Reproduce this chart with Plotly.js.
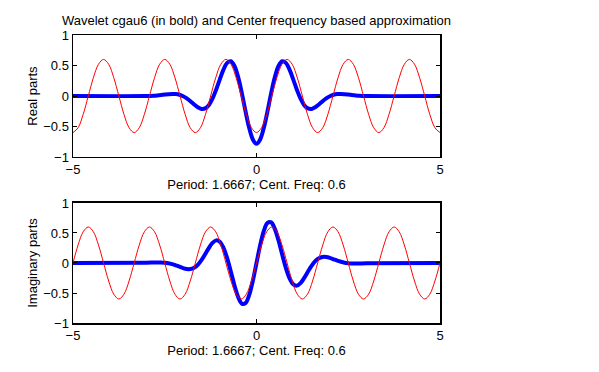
<!DOCTYPE html>
<html>
<head>
<meta charset="utf-8">
<script src="https://cdn.plot.ly/plotly-3.0.1.min.js"></script>
<style>html,body{margin:0;padding:0;background:#fff;}#chart{width:599px;height:372px;}</style>
</head>
<body>
<div id="chart"></div>
<script>
// Wavelet cgau6 samples
const waveX = [-5, -3, -2.8, -2.7, -2.6, -2.5, -2.4, -2.3, -2.2, -2.1, -2, -1.9, -1.8, -1.7, -1.6, -1.5, -1.4, -1.3, -1.2, -1.1, -1, -0.9, -0.8, -0.7, -0.6, -0.5, -0.4, -0.3, -0.2, -0.1,
  0, 0.1, 0.2, 0.3, 0.4, 0.5, 0.6, 0.7, 0.8, 0.9, 1, 1.1, 1.2, 1.3, 1.4, 1.5, 1.6, 1.7, 1.8, 1.9, 2, 2.1, 2.2, 2.3, 2.4, 2.5, 2.6, 2.7, 2.8, 3, 5];
const waveReal = [0, 0.000, 0.005, 0.010, 0.016, 0.023, 0.029, 0.033, 0.031, 0.020, -0.003, -0.039, -0.086, -0.138, -0.185, -0.212, -0.204, -0.150, -0.045, 0.103, 0.273, 0.432, 0.543, 0.570, 0.492, 0.310, 0.048, -0.249, -0.521, -0.712,
  -0.781, -0.712, -0.521, -0.249, 0.048, 0.310, 0.492, 0.570, 0.543, 0.432, 0.273, 0.103, -0.045, -0.150, -0.204, -0.212, -0.185, -0.138, -0.086, -0.039, -0.003, 0.020, 0.031, 0.033, 0.029, 0.023, 0.016, 0.010, 0.005, 0.000, 0];
const waveImag = [0, 0.006, 0.009, 0.010, 0.009, 0.004, -0.005, -0.020, -0.039, -0.062, -0.085, -0.100, -0.101, -0.079, -0.030, 0.047, 0.145, 0.248, 0.334, 0.377, 0.354, 0.254, 0.082, -0.141, -0.374, -0.568, -0.677, -0.668, -0.535, -0.297,
  0, 0.297, 0.535, 0.668, 0.677, 0.568, 0.374, 0.141, -0.082, -0.254, -0.354, -0.377, -0.334, -0.248, -0.145, -0.047, 0.030, 0.079, 0.101, 0.100, 0.085, 0.062, 0.039, 0.020, 0.005, -0.004, -0.009, -0.010, -0.009, -0.006, 0];

// Center-frequency approximation samples
const approxX = [-5, -4.8611, -4.7222, -4.5833, -4.4444, -4.3056, -4.1667, -4.0278, -3.8889, -3.75, -3.6111, -3.4722,
  -3.3333, -3.1944, -3.0556, -2.9167, -2.7778, -2.6389, -2.5, -2.3611, -2.2222, -2.0833, -1.9444, -1.8056,
  -1.6667, -1.5278, -1.3889, -1.25, -1.1111, -0.9722, -0.8333, -0.6944, -0.5556, -0.4167, -0.2778, -0.1389,
  0, 0.1389, 0.2778, 0.4167, 0.5556, 0.6944, 0.8333, 0.9722, 1.1111, 1.25, 1.3889, 1.5278,
  1.6667, 1.8056, 1.9444, 2.0833, 2.2222, 2.3611, 2.5, 2.6389, 2.7778, 2.9167, 3.0556, 3.1944,
  3.3333, 3.4722, 3.6111, 3.75, 3.8889, 4.0278, 4.1667, 4.3056, 4.4444, 4.5833, 4.7222, 4.8611, 5];
const approxReal = [-0.6, -0.52, -0.3, 0, 0.3, 0.52, 0.6, 0.52, 0.3, 0, -0.3, -0.52,
  -0.6, -0.52, -0.3, 0, 0.3, 0.52, 0.6, 0.52, 0.3, 0, -0.3, -0.52,
  -0.6, -0.52, -0.3, 0, 0.3, 0.52, 0.6, 0.52, 0.3, 0, -0.3, -0.52,
  -0.6, -0.52, -0.3, 0, 0.3, 0.52, 0.6, 0.52, 0.3, 0, -0.3, -0.52,
  -0.6, -0.52, -0.3, 0, 0.3, 0.52, 0.6, 0.52, 0.3, 0, -0.3, -0.52,
  -0.6, -0.52, -0.3, 0, 0.3, 0.52, 0.6, 0.52, 0.3, 0, -0.3, -0.52, -0.6];
const approxImag = [0, 0.3, 0.52, 0.6, 0.52, 0.3, 0, -0.3, -0.52, -0.6, -0.52, -0.3,
  0, 0.3, 0.52, 0.6, 0.52, 0.3, 0, -0.3, -0.52, -0.6, -0.52, -0.3,
  0, 0.3, 0.52, 0.6, 0.52, 0.3, 0, -0.3, -0.52, -0.6, -0.52, -0.3,
  0, 0.3, 0.52, 0.6, 0.52, 0.3, 0, -0.3, -0.52, -0.6, -0.52, -0.3,
  0, 0.3, 0.52, 0.6, 0.52, 0.3, 0, -0.3, -0.52, -0.6, -0.52, -0.3,
  0, 0.3, 0.52, 0.6, 0.52, 0.3, 0, -0.3, -0.52, -0.6, -0.52, -0.3, 0];

const xTicks = [-5, 0, 5];
const yTicks = [-1, -0.5, 0, 0.5, 1];
const chartTitle = 'Wavelet cgau6 (in bold) and Center frequency based approximation';
const xLabel = 'Period: 1.6667; Cent. Freq: 0.6';
const yLabelTop = 'Real parts';
const yLabelBottom = 'Imaginary parts';

const FONT = 'Liberation Sans, Arial, Helvetica, sans-serif';
const FS = 13;

const traces = [
  {x: waveX, y: waveReal, xaxis: 'x', yaxis: 'y', mode: 'lines', line: {color: '#0000ff', width: 4, shape: 'spline'}},
  {x: approxX, y: approxReal, xaxis: 'x', yaxis: 'y', mode: 'lines', line: {color: '#ff0000', width: 1, shape: 'spline'}},
  {x: waveX, y: waveImag, xaxis: 'x2', yaxis: 'y2', mode: 'lines', line: {color: '#0000ff', width: 4, shape: 'spline'}},
  {x: approxX, y: approxImag, xaxis: 'x2', yaxis: 'y2', mode: 'lines', line: {color: '#ff0000', width: 1, shape: 'spline'}}
];

function xax(anchor) {
  return {
    anchor: anchor, range: [-5, 5], tickvals: xTicks, ticks: 'inside', ticklen: 4, tickcolor: '#000',
    showline: true, linecolor: '#000', linewidth: 1.5, mirror: 'ticks', showgrid: false, zeroline: false,
    tickfont: {family: FONT, size: FS, color: '#000'},
    title: {text: xLabel, font: {family: FONT, size: FS, color: '#000'}, standoff: 4}
  };
}
function yax(anchor, dom, label) {
  return {
    anchor: anchor, domain: dom, range: [-1, 1], tickvals: yTicks, ticks: 'inside', ticklen: 4, tickcolor: '#000',
    showline: true, linecolor: '#000', linewidth: 1.5, mirror: 'ticks', showgrid: false, zeroline: false,
    tickfont: {family: FONT, size: FS, color: '#000'},
    title: {text: label, font: {family: FONT, size: FS, color: '#000'}, standoff: 2}
  };
}

const layout = {
  width: 599, height: 372,
  margin: {l: 73, r: 159, t: 35, b: 49},
  paper_bgcolor: '#fff', plot_bgcolor: '#fff',
  showlegend: false,
  title: {text: chartTitle, font: {family: FONT, size: FS, color: '#000'}, xref: 'paper', x: 0.5, xanchor: 'center', yref: 'container', y: 1 - 20/372, yanchor: 'middle'},
  xaxis: xax('y'),
  yaxis: yax('x', [0.5764, 1], yLabelTop),
  xaxis2: xax('y2'),
  yaxis2: yax('x2', [0, 0.4167], yLabelBottom)
};

Plotly.newPlot('chart', traces, layout, {displayModeBar: false, staticPlot: true});
</script>
</body>
</html>
